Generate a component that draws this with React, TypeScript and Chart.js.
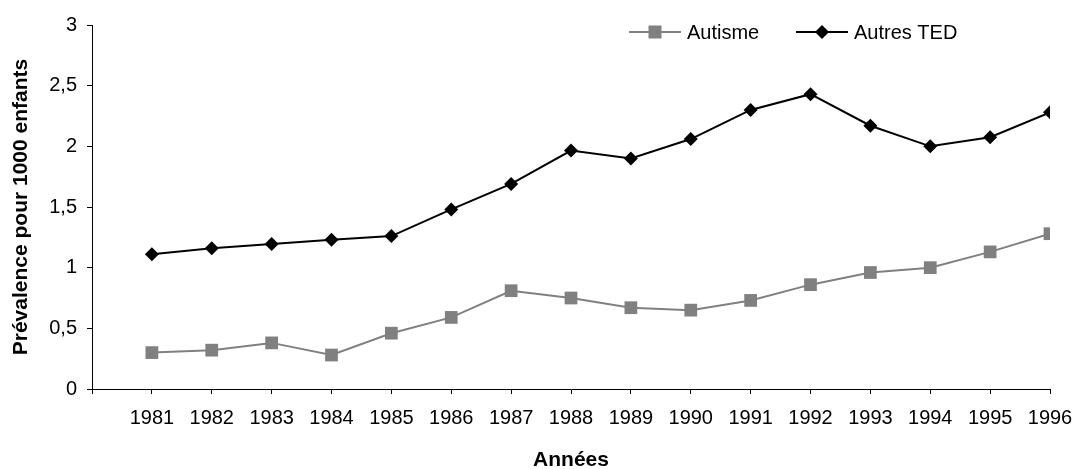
import React, { useEffect, useRef } from "react";
import { Chart, registerables } from "chart.js";

Chart.register(...registerables);

const years = [1981, 1982, 1983, 1984, 1985, 1986, 1987, 1988, 1989, 1990, 1991, 1992, 1993, 1994, 1995, 1996];
const autisme = [0.30, 0.32, 0.38, 0.28, 0.46, 0.59, 0.81, 0.75, 0.67, 0.65, 0.73, 0.86, 0.96, 1.00, 1.13, 1.28];
const autresTED = [1.11, 1.16, 1.195, 1.23, 1.26, 1.48, 1.69, 1.965, 1.90, 2.06, 2.30, 2.43, 2.17, 2.00, 2.075, 2.28];
const yTicks = [0, 0.5, 1, 1.5, 2, 2.5, 3];
const seriesNames = ["Autisme", "Autres TED"];

const FONT = "'Liberation Sans', Arial, sans-serif";

const legendPlugin = {
  id: "lineLegend",
  afterDraw(chart: any) {
    const ctx = chart.ctx;
    const items = [
      { x: 629, color: "#808080", style: "rect", label: seriesNames[0] },
      { x: 796, color: "#000000", style: "diamond", label: seriesNames[1] },
    ];
    const y = 32;
    ctx.save();
    items.forEach((it) => {
      ctx.strokeStyle = it.color;
      ctx.lineWidth = 2;
      ctx.beginPath();
      ctx.moveTo(it.x, y);
      ctx.lineTo(it.x + 52, y);
      ctx.stroke();
      const cx = it.x + 26;
      ctx.fillStyle = it.color;
      if (it.style === "rect") {
        ctx.fillRect(cx - 6.5, y - 6.5, 13, 13);
      } else {
        ctx.beginPath();
        ctx.moveTo(cx - 7, y);
        ctx.lineTo(cx, y - 7);
        ctx.lineTo(cx + 7, y);
        ctx.lineTo(cx, y + 7);
        ctx.closePath();
        ctx.fill();
      }
      ctx.fillStyle = "#000";
      ctx.font = `20px ${FONT}`;
      ctx.textAlign = "left";
      ctx.textBaseline = "middle";
      ctx.fillText(it.label, it.x + 58, y + 1);
    });
    ctx.restore();
  },
};

export default function App() {
  const ref = useRef<HTMLCanvasElement>(null);
  useEffect(() => {
    document.body.style.margin = "0";
    const chart = new Chart(ref.current!, {
      type: "line",
      data: {
        datasets: [
          {
            label: seriesNames[0],
            data: years.map((y, i) => ({ x: y, y: autisme[i] })),
            borderColor: "#808080",
            backgroundColor: "#808080",
            borderWidth: 2,
            pointStyle: "rect",
            pointRadius: 9,
            pointBorderWidth: 0,
            pointBackgroundColor: "#808080",
            tension: 0,
          },
          {
            label: seriesNames[1],
            data: years.map((y, i) => ({ x: y, y: autresTED[i] })),
            borderColor: "#000000",
            backgroundColor: "#000000",
            borderWidth: 2,
            pointStyle: "rectRot",
            pointRadius: 7,
            pointBorderWidth: 0,
            pointBackgroundColor: "#000000",
            tension: 0,
          },
        ],
      },
      options: {
        animation: false,
        responsive: false,
        maintainAspectRatio: false,
        layout: { padding: { left: 0, top: 25, right: 23, bottom: 0 } },
        plugins: { legend: { display: false }, tooltip: { enabled: false } },
        scales: {
          x: {
            type: "linear",
            min: years[0] - 1,
            max: years[years.length - 1],
            afterFit: (s: any) => { s.height = 80; s.paddingLeft = 0; s.paddingRight = 0; },
            afterBuildTicks: (s: any) => {
              const t = [];
              for (let v = years[0] - 1; v <= years[years.length - 1]; v++) t.push({ value: v });
              s.ticks = t;
            },
            grid: { drawOnChartArea: false, drawTicks: true, tickLength: 5, tickColor: "#000", color: "#000" },
            border: { display: true, color: "#000", width: 1 },
            ticks: {
              color: "#000",
              font: { family: FONT, size: 20 },
              padding: 12,
              maxRotation: 0,
              autoSkip: false,
              callback: (v: any) => (v < years[0] ? "" : String(v)),
            },
            title: {
              display: true,
              text: "Années",
              color: "#000",
              font: { family: FONT, size: 21, weight: "bold" },
              padding: { top: 0, bottom: -4 },
            },
          },
          y: {
            min: 0,
            max: 3,
            afterFit: (s: any) => { s.width = 92; s.paddingTop = 0; s.paddingBottom = 0; },
            afterBuildTicks: (s: any) => { s.ticks = yTicks.map((v) => ({ value: v })); },
            grid: { drawOnChartArea: false, drawTicks: true, tickLength: 5, tickColor: "#000", color: "#000" },
            border: { display: true, color: "#000", width: 1 },
            ticks: {
              color: "#000",
              font: { family: FONT, size: 20 },
              padding: 10,
              callback: (v: any) => String(v).replace(".", ","),
            },
            title: {
              display: true,
              text: "Prévalence pour 1000 enfants",
              color: "#000",
              font: { family: FONT, size: 21, weight: "bold" },
              padding: { top: 9, bottom: 0 },
            },
          },
        },
      },
      plugins: [legendPlugin],
    });
    return () => chart.destroy();
  }, []);
  return (
    <div style={{ position: "absolute", left: 0, top: 0, width: 1073, height: 469, background: "#fff" }}>
      <canvas ref={ref} width={1073} height={469} />
    </div>
  );
}
